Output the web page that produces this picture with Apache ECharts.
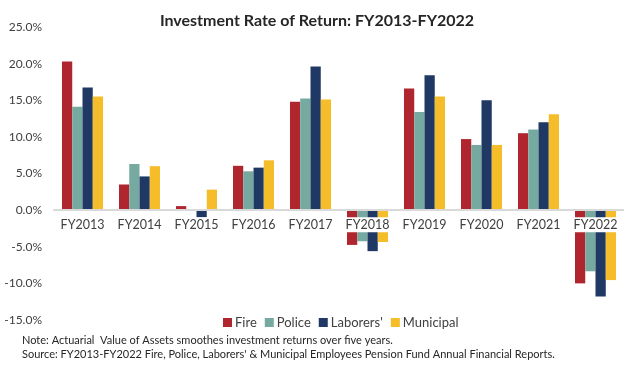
<!DOCTYPE html>
<html><head><meta charset="utf-8">
<script src="https://cdn.jsdelivr.net/npm/echarts@6/dist/echarts.min.js"></script>
<style>html,body{margin:0;padding:0;background:#fff}#c{width:624px;height:369px}</style>
</head><body><div id="c"></div>
<script>
const categories = ['FY2013','FY2014','FY2015','FY2016','FY2017','FY2018','FY2019','FY2020','FY2021','FY2022'];
const fire      = [20.3, 3.5, 0.55, 6.05, 14.8, -4.75, 16.6, 9.7, 10.5, -10.0];
const police    = [14.1, 6.3, 0.1, 5.3, 15.25, -4.25, 13.4, 8.9, 11.0, -8.35];
const laborers  = [16.75, 4.6, -1.0, 5.8, 19.6, -5.6, 18.4, 15.0, 12.0, -11.8];
const municipal = [15.5, 6.0, 2.8, 6.8, 15.1, -4.35, 15.5, 8.9, 13.1, -9.55];
const seriesNames = ['Fire','Police',"Laborers'",'Municipal'];
const colors = ['#B0262F','#76A9A0','#1F3864','#F6BD2B'];
const noteLines = ['Note: Actuarial  Value of Assets smoothes investment returns over five years.',
  "Source: FY2013-FY2022 Fire, Police, Laborers' & Municipal Employees Pension Fund Annual Financial Reports."];

const FONT = 'Lato, Carlito, sans-serif';
const chart = echarts.init(document.getElementById('c'));
const data = [fire, police, laborers, municipal];
const yMin = -15, yMax = 25, gridTop = 27, gridBottom = 49;
const plotH = 369 - gridTop - gridBottom;
chart.setOption({
  animation: false,
  textStyle: {fontFamily: FONT},
  title: {text: 'Investment Rate of Return: FY2013-FY2022', left: 312, top: 8, textAlign: 'center',
    textStyle: {fontSize: 16, fontWeight: 'bold', color: '#262626', fontFamily: FONT}},
  legend: {data: seriesNames, top: 311, left: 218, itemWidth: 9, itemHeight: 9, itemGap: 8,
    icon: 'rect', textStyle: {fontSize: 13, color: '#404040', fontFamily: FONT, padding: [0,0,0,-2]}},
  grid: {left: 54, right: 0, top: gridTop, bottom: gridBottom},
  xAxis: {type: 'category', data: categories, z: 10, zlevel: 0, position: 'bottom',
    offset: -plotH * (0 - yMin) / (yMax - yMin),
    axisLine: {show: true, onZero: false, lineStyle: {color: '#d9d9d9', width: 2}},
    axisTick: {show: false},
    axisLabel: {interval: 0, hideOverlap: false, fontSize: 12.5, color: '#404040', margin: 7,
      backgroundColor: '#fff', padding: [1,1,1,1], fontFamily: FONT}},
  yAxis: {type: 'value', min: yMin, max: yMax, interval: 5,
    axisLine: {show: false}, axisTick: {show: false}, splitLine: {show: false},
    axisLabel: {fontSize: 12, color: '#404040', margin: 12, fontFamily: FONT,
      formatter: v => v.toFixed(1) + '%'}},
  series: seriesNames.map((n, i) => ({
    name: n, type: 'bar', data: data[i], barGap: '0%', barCategoryGap: '28%', z: 2,
    itemStyle: {color: colors[i]}
  })),
  graphic: noteLines.map((t, i) => ({type: 'text', left: 22, top: 335 + i * 14,
    style: {text: t, fontSize: 11, fill: '#262626', fontFamily: FONT}}))
});
</script></body></html>
